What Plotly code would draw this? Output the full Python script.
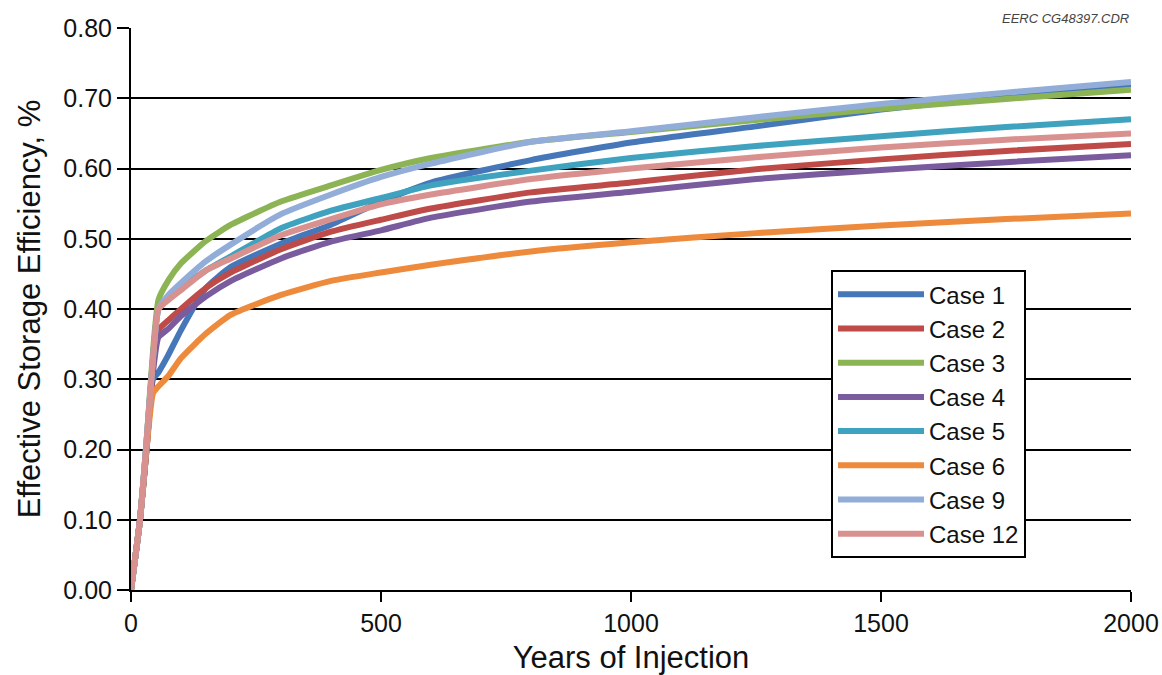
import plotly.graph_objects as go

# Years of injection at which the efficiencies are sampled
years = [0, 18, 31, 44, 55, 75, 100, 150, 200, 300, 400, 500, 600, 800, 1000, 1250, 1500, 1750, 2000]

case_1 = [0, 0.10, 0.20, 0.30, 0.31, 0.335, 0.37, 0.43, 0.46, 0.493, 0.520, 0.553, 0.580, 0.612, 0.637, 0.660, 0.684, 0.703, 0.720]
case_2 = [0, 0.10, 0.20, 0.32, 0.37, 0.384, 0.40, 0.430, 0.452, 0.485, 0.510, 0.527, 0.543, 0.566, 0.580, 0.599, 0.613, 0.625, 0.635]
case_3 = [0, 0.10, 0.21, 0.34, 0.413, 0.441, 0.465, 0.497, 0.520, 0.553, 0.576, 0.598, 0.615, 0.638, 0.652, 0.669, 0.685, 0.699, 0.712]
case_4 = [0, 0.10, 0.20, 0.31, 0.36, 0.372, 0.39, 0.418, 0.440, 0.472, 0.496, 0.512, 0.530, 0.553, 0.567, 0.585, 0.598, 0.609, 0.619]
case_5 = [0, 0.10, 0.21, 0.33, 0.40, 0.415, 0.43, 0.455, 0.475, 0.515, 0.540, 0.558, 0.576, 0.597, 0.615, 0.632, 0.646, 0.659, 0.670]
case_6 = [0, 0.10, 0.20, 0.28, 0.29, 0.305, 0.33, 0.365, 0.392, 0.420, 0.440, 0.452, 0.463, 0.482, 0.495, 0.508, 0.519, 0.528, 0.536]
case_9 = [0, 0.10, 0.21, 0.33, 0.40, 0.42, 0.437, 0.468, 0.492, 0.535, 0.563, 0.588, 0.607, 0.638, 0.653, 0.673, 0.692, 0.708, 0.723]
case_12 = [0, 0.10, 0.21, 0.33, 0.40, 0.413, 0.427, 0.455, 0.472, 0.505, 0.528, 0.549, 0.563, 0.585, 0.600, 0.616, 0.630, 0.641, 0.650]

series_names = ["Case 1", "Case 2", "Case 3", "Case 4", "Case 5", "Case 6", "Case 9", "Case 12"]
series_values = [case_1, case_2, case_3, case_4, case_5, case_6, case_9, case_12]
series_colors = ["#4677B8", "#BE4B48", "#8DB454", "#7A5B9E", "#3FA2BE", "#EE8A3C", "#92ADD8", "#D9918F"]

y_ticks = [0.0, 0.1, 0.2, 0.3, 0.4, 0.5, 0.6, 0.7, 0.8]
x_ticks = [0, 500, 1000, 1500, 2000]

fig = go.Figure()
for name, vals, color in zip(series_names, series_values, series_colors):
    fig.add_trace(go.Scatter(
        x=years, y=vals, name=name, mode="lines",
        line=dict(color=color, width=6, shape="spline", smoothing=0.5),
    ))

fig.update_layout(
    width=1162, height=675,
    margin=dict(l=131, r=31, t=28, b=85),
    paper_bgcolor="white", plot_bgcolor="white",
    font=dict(family="Liberation Sans, Arial, sans-serif", color="#111"),
    showlegend=True,
    legend=dict(
        x=0.70, y=0.569, xanchor="left", yanchor="top",
        bgcolor="white", bordercolor="black", borderwidth=2,
        font=dict(size=24, color="#111"),
        itemwidth=86,
    ),
    xaxis=dict(
        range=[0, 2000], tickvals=x_ticks,
        showgrid=False, zeroline=False, automargin=False,
        showline=True, linecolor="black", linewidth=2,
        ticks="outside", ticklen=10, tickwidth=2, tickcolor="black",
        tickfont=dict(size=25),
        title=dict(text="Years of Injection", font=dict(size=31), standoff=16),
    ),
    yaxis=dict(
        range=[0, 0.8], tickvals=y_ticks, tickformat=".2f",
        showgrid=True, gridcolor="black", gridwidth=2,
        zeroline=False, automargin=False,
        showline=True, linecolor="black", linewidth=2,
        ticks="outside", ticklen=12, tickwidth=2, tickcolor="black",
        tickfont=dict(size=25),
        title=dict(text="Effective Storage Efficiency, %", font=dict(size=31), standoff=13),
    ),
)

fig.add_annotation(
    text="<i>EERC CG48397.CDR</i>", xref="paper", yref="paper",
    x=1.0, y=1.0, xanchor="right", yanchor="bottom",
    showarrow=False, font=dict(size=13, color="#444"),
)

fig.write_html("out.html")
